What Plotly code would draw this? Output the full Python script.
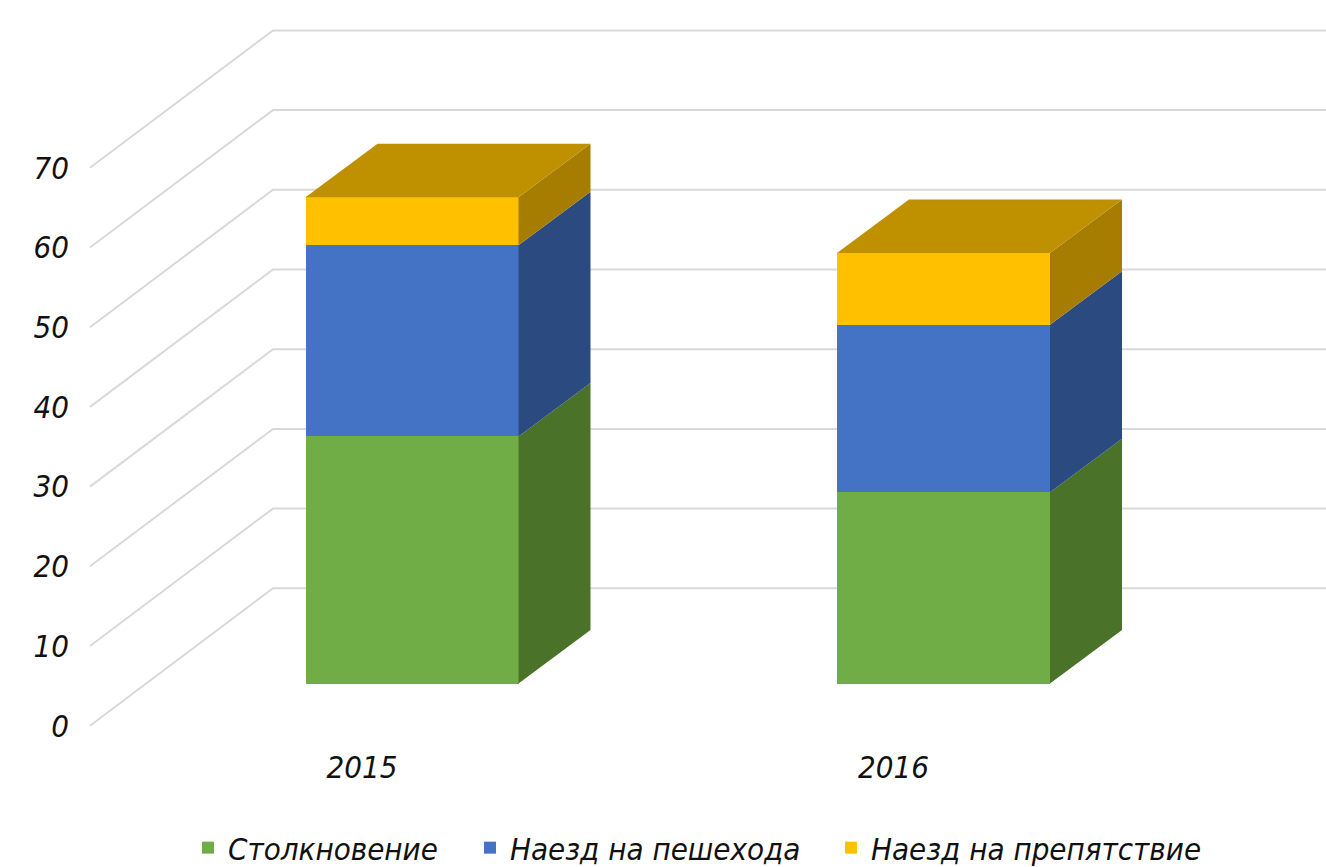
import plotly.graph_objects as go

# ---------------- data ----------------
years = ["2015", "2016"]
series_names = ["Столкновение", "Наезд на пешехода", "Наезд на препятствие"]
collision = [31, 24]
pedestrian = [24, 21]
obstacle = [6, 9]
y_ticks = [0, 10, 20, 30, 40, 50, 60, 70]

# ---------------- styles ----------------
front_colors = ["#70AD47", "#4472C4", "#FFC000"]
side_colors = ["#4A7229", "#2B4A80", "#A67D00"]
top_color = "#BF9000"
grid_color = "#D9D9D9"
FONT = dict(family="Liberation Sans Narrow, DejaVu Sans Condensed, sans-serif",
            style="italic", size=31, color="#111111")

# ---------------- oblique-projection geometry (axis units) ----------------
PX = 7.97                       # pixels per value unit
FLOOR_LEFT = 90
FLOOR_DX, FLOOR_DY = 183, 137.4 / PX
BAR_W = 213
BAR_FRONT_DX, BAR_FRONT_DY = 50, 42.2 / PX
BAR_DEPTH_DX, BAR_DEPTH_DY = 72, 53.5 / PX
CAT_X0, CAT_STEP = 362, 531.5
X_MIN, X_MAX = 80, 1326
PLOT_BOTTOM_PX = 746
ZERO_PX = 725.7

series = [collision, pedestrian, obstacle]
cat_x = [CAT_X0 + i * CAT_STEP for i in range(len(years))]
bar_cx = [c + BAR_FRONT_DX for c in cat_x]

fig = go.Figure()
legend_ids = ["legend", "legend2", "legend3"]

# front faces (real bars)
for s, (name, vals) in enumerate(zip(series_names, series)):
    bases = [BAR_FRONT_DY + sum(series[k][i] for k in range(s)) for i in range(len(years))]
    fig.add_trace(go.Bar(
        x=bar_cx, y=vals, base=bases, width=BAR_W, name=name,
        marker=dict(color=front_colors[s], line=dict(width=0)),
        legend=legend_ids[s], hoverinfo="skip",
    ))

# side faces and top faces
for i in range(len(years)):
    xr = bar_cx[i] + BAR_W / 2
    xl = bar_cx[i] - BAR_W / 2
    cum = BAR_FRONT_DY
    for s in range(len(series)):
        b = cum
        t = cum + series[s][i]
        fig.add_trace(go.Scatter(
            x=[xr, xr + BAR_DEPTH_DX, xr + BAR_DEPTH_DX, xr, xr],
            y=[b, b + BAR_DEPTH_DY, t + BAR_DEPTH_DY, t, b],
            mode="lines", fill="toself", fillcolor=side_colors[s],
            line=dict(width=0, color=side_colors[s]), showlegend=False, hoverinfo="skip"))
        cum = t
    fig.add_trace(go.Scatter(
        x=[xl, xr, xr + BAR_DEPTH_DX, xl + BAR_DEPTH_DX, xl],
        y=[cum, cum, cum + BAR_DEPTH_DY, cum + BAR_DEPTH_DY, cum],
        mode="lines", fill="toself", fillcolor=top_color,
        line=dict(width=0, color=top_color), showlegend=False, hoverinfo="skip"))

# floor diagonals + back wall gridlines
shapes = []
for v in y_ticks:
    path = (f"M {FLOOR_LEFT},{v} L {FLOOR_LEFT + FLOOR_DX},{v + FLOOR_DY} "
            f"L {X_MAX},{v + FLOOR_DY}")
    shapes.append(dict(type="path", path=path, xref="x", yref="y", layer="below",
                       line=dict(color=grid_color, width=2)))

H = 867
plot_h = PLOT_BOTTOM_PX
y_top = ZERO_PX / PX
y_bot = (ZERO_PX - PLOT_BOTTOM_PX) / PX

def px_to_paper_x(px):
    return (px - X_MIN) / (X_MAX - X_MIN)

def px_to_paper_y(py):
    return (PLOT_BOTTOM_PX - py) / plot_h

leg_common = dict(orientation="h", yanchor="middle", xanchor="left",
                  bgcolor="rgba(0,0,0,0)", font=FONT, itemwidth=30)
legend_lefts = [188, 470, 831]

fig.update_layout(
    width=1326, height=H,
    margin=dict(l=X_MIN, r=0, t=0, b=H - PLOT_BOTTOM_PX, autoexpand=False),
    paper_bgcolor="white", plot_bgcolor="white",
    barmode="overlay", bargap=0,
    font=FONT,
    shapes=shapes,
    xaxis=dict(range=[X_MIN, X_MAX], tickvals=cat_x, ticktext=years,
               showgrid=False, zeroline=False, showline=False, ticks="",
               tickfont=FONT, fixedrange=True, automargin=False),
    yaxis=dict(range=[y_bot, y_top], tickvals=y_ticks,
               showgrid=False, zeroline=False, showline=False, ticks="",
               tickfont=FONT, ticklabelstandoff=10, fixedrange=True, automargin=False),
    legend=dict(x=px_to_paper_x(legend_lefts[0]), y=px_to_paper_y(848), **leg_common),
    legend2=dict(x=px_to_paper_x(legend_lefts[1]), y=px_to_paper_y(848), **leg_common),
    legend3=dict(x=px_to_paper_x(legend_lefts[2]), y=px_to_paper_y(848), **leg_common),
)

fig.write_html("out.html", config={"displayModeBar": False},
               post_script="document.body.style.margin='0';document.body.style.overflow='hidden';")
